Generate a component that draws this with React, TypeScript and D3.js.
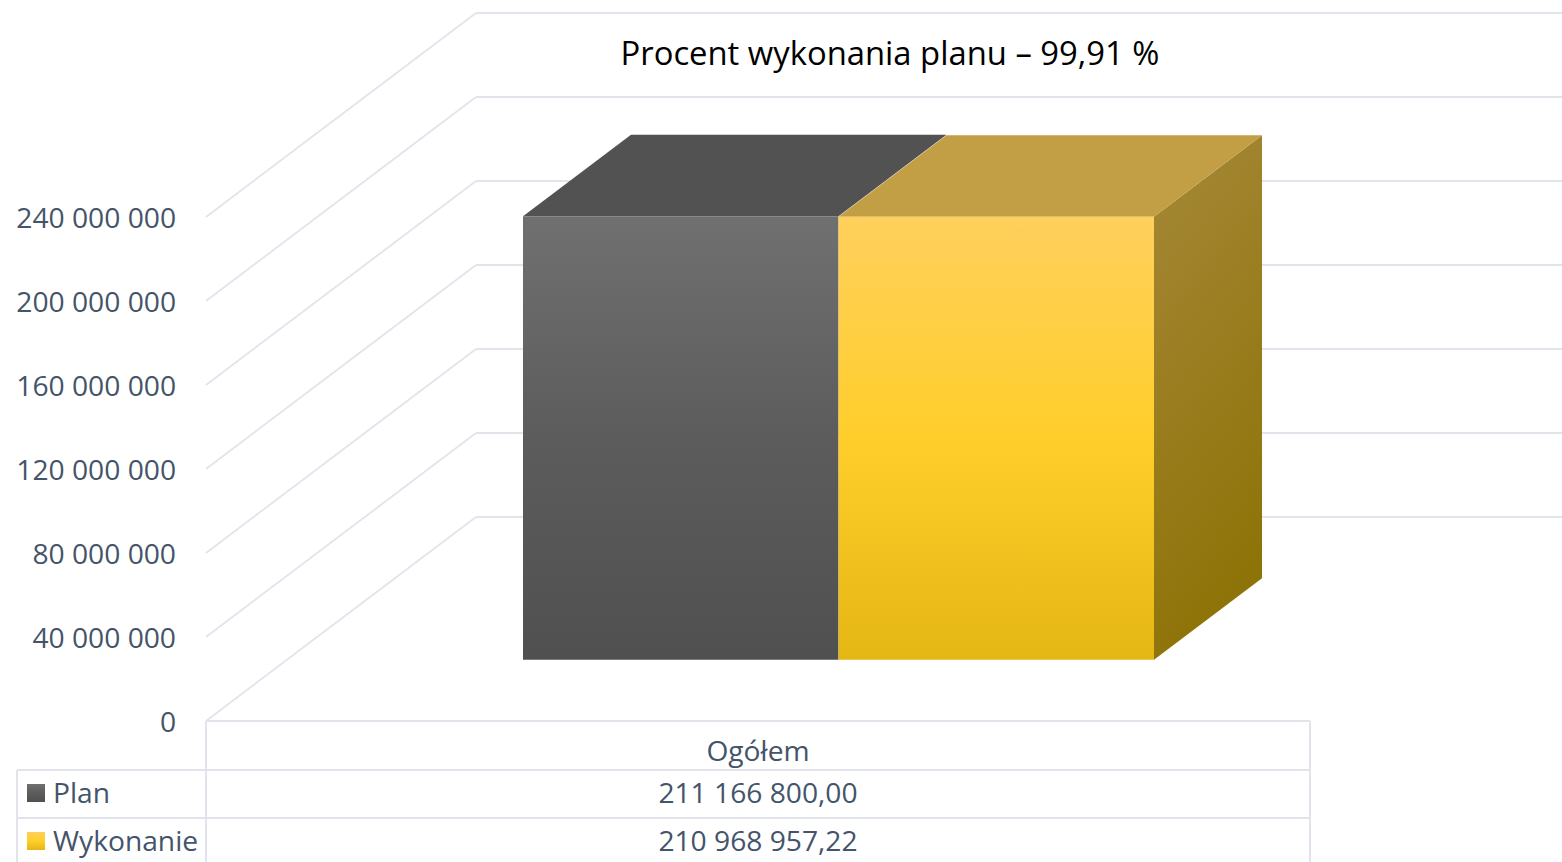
import React from "react";
import * as d3 from "d3";

const titleText = "Procent wykonania planu – 99,91 %";
const categories = ["Ogółem"];
const seriesNames = ["Plan", "Wykonanie"];
const planValues = [211166800.0];
const wykonanieValues = [210968957.22];
const planLabels = ["211 166 800,00"];
const wykonanieLabels = ["210 968 957,22"];
const yTicks = [0, 40000000, 80000000, 120000000, 160000000, 200000000, 240000000];
const yTickLabels = ["0", "40 000 000", "80 000 000", "120 000 000", "160 000 000", "200 000 000", "240 000 000"];

const W = 1562, H = 862;
const FONT = "'Open Sans', sans-serif";
const TXT = "#44546A", GRID = "#E1E5EB";
const DX = 270, DY = 204, Z0 = 0.3, Z1 = 0.7;

const y = d3.scaleLinear().domain([0, 240000000]).range([721, 217]);
const x = d3.scaleBand().domain(categories).range([206, 1310]);
const inner = d3.scaleBand().domain(seriesNames).range([442, 1073]);

const project = (px: number, v: number, z: number): [number, number] => [px + z * DX, y(v) - z * DY];
const poly = d3.line();
const face = (pts: [number, number][]) => poly(pts)! + "Z";

function Bar({ name, value, front, top, side }: { name: string; value: number; front: string; top: string; side?: string }) {
  const x0 = inner(name)!, x1 = x0 + inner.bandwidth();
  const frontPts: [number, number][] = [project(x0, 0, Z0), project(x1, 0, Z0), project(x1, value, Z0), project(x0, value, Z0)];
  const topPts: [number, number][] = [project(x0, value, Z0), project(x1, value, Z0), project(x1, value, Z1), project(x0, value, Z1)];
  const sidePts: [number, number][] = [project(x1, 0, Z0), project(x1, 0, Z1), project(x1, value, Z1), project(x1, value, Z0)];
  return (
    <g>
      {side && <path d={face(sidePts)} fill={side} />}
      <path d={face(topPts)} fill={top} />
      <path d={face(frontPts)} fill={front} />
    </g>
  );
}

export default function App() {
  const tableRows = [721, 770, 818, 866];
  const tableLeft = 17, tableSplit = x.range()[0], tableRight = x.range()[1];
  const lx = x(categories[0])! + x.bandwidth() / 2;
  return (
    <svg width={W} height={H} viewBox={`0 0 ${W} ${H}`} style={{ position: "fixed", left: 0, top: 0, background: "#fff" }}>
      <defs>
        <linearGradient id="gGray" x1="0" y1="0" x2="0" y2="1">
          <stop offset="0" stopColor="#707070" />
          <stop offset="0.5" stopColor="#5c5c5c" />
          <stop offset="1" stopColor="#505050" />
        </linearGradient>
        <linearGradient id="gYellow" x1="0" y1="0" x2="0" y2="1">
          <stop offset="0" stopColor="#FFD05C" />
          <stop offset="0.5" stopColor="#FFCE2B" />
          <stop offset="1" stopColor="#E5B714" />
        </linearGradient>
        <linearGradient id="gSide" x1="0" y1="0" x2="0.25" y2="1">
          <stop offset="0" stopColor="#A68838" />
          <stop offset="1" stopColor="#8E7308" />
        </linearGradient>
      </defs>

      {yTicks.map((t) => {
        const [ax, ay] = project(tableSplit, t, 0);
        const [bx, by] = project(tableSplit, t, 1);
        return (
          <g key={t} stroke={GRID} strokeWidth={1.8} fill="none">
            <line x1={ax} y1={ay} x2={bx} y2={by} />
            <line x1={bx} y1={by} x2={bx + (tableRight - tableSplit)} y2={by} />
          </g>
        );
      })}

      <g fontFamily={FONT} fontSize={28.2} fill={TXT} textAnchor="end">
        {yTicks.map((t, i) => (
          <text key={t} x={176} y={y(t) + 10.5}>{yTickLabels[i]}</text>
        ))}
      </g>

      <Bar name="Plan" value={planValues[0]} front="url(#gGray)" top="#525252" />
      <Bar name="Wykonanie" value={wykonanieValues[0]} front="url(#gYellow)" top="#C29F45" side="url(#gSide)" />

      <text x={890} y={65} textAnchor="middle" fontFamily={FONT} fontSize={32.8} fill="#000">{titleText}</text>

      <g stroke={GRID} strokeWidth={2} fill="none">
        <line x1={tableSplit} y1={tableRows[0]} x2={tableRight} y2={tableRows[0]} />
        <line x1={tableLeft} y1={tableRows[1]} x2={tableRight} y2={tableRows[1]} />
        <line x1={tableLeft} y1={tableRows[2]} x2={tableRight} y2={tableRows[2]} />
        <line x1={tableLeft} y1={tableRows[1]} x2={tableLeft} y2={H} />
        <line x1={tableSplit} y1={tableRows[0]} x2={tableSplit} y2={H} />
        <line x1={tableRight} y1={tableRows[0]} x2={tableRight} y2={H} />
      </g>

      <g fontFamily={FONT} fontSize={28.2} fill={TXT}>
        <text x={lx} y={760.5} textAnchor="middle">{categories[0]}</text>
        <text x={lx} y={802.5} textAnchor="middle">{planLabels[0]}</text>
        <text x={lx} y={850.5} textAnchor="middle">{wykonanieLabels[0]}</text>
        <rect x={27} y={784} width={18} height={18} fill="url(#gGray)" />
        <text x={53} y={802.5}>{seriesNames[0]}</text>
        <rect x={27} y={832} width={18} height={18} fill="url(#gYellow)" />
        <text x={53} y={850.5}>{seriesNames[1]}</text>
      </g>
    </svg>
  );
}
